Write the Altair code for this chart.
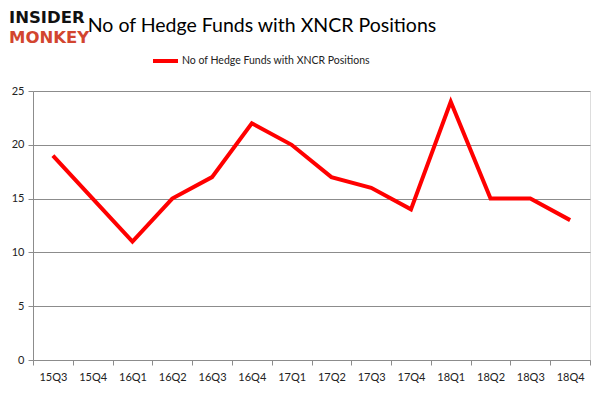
import altair as alt
import pandas as pd

quarters = ["15Q3", "15Q4", "16Q1", "16Q2", "16Q3", "16Q4", "17Q1", "17Q2",
            "17Q3", "17Q4", "18Q1", "18Q2", "18Q3", "18Q4"]
funds = [19, 15, 11, 15, 17, 22, 20, 17, 16, 14, 24, 15, 15, 13]
series_name = "No of Hedge Funds with XNCR Positions"
title_text = "No of Hedge Funds with XNCR Positions"

df = pd.DataFrame({"quarter": quarters, "funds": funds, "series": series_name})
one = alt.Data(values=[{"k": 1}])

FONT = "Lato"
GRID = "#8c8c8c"

x = alt.X("quarter:N", sort=quarters, title=None,
          bandPosition=0.5,
          scale=alt.Scale(type="band", paddingInner=0, paddingOuter=0),
          axis=alt.Axis(tickBand="extent", labelAngle=0, labelFont=FONT,
                        labelFontSize=11, labelColor="#222", labelPadding=6,
                        domainColor=GRID, tickColor=GRID, tickSize=5,
                        grid=False))
y = alt.Y("funds:Q", title=None,
          scale=alt.Scale(domain=[0, 25], nice=False),
          axis=alt.Axis(values=[0, 5, 10, 15, 20, 25], labelFont=FONT,
                        labelFontSize=11, labelColor="#222", labelPadding=4,
                        domainColor=GRID, tickColor=GRID, tickSize=5,
                        gridColor=GRID, gridWidth=1))

line = alt.Chart(df).mark_line(color="#ff0000", strokeWidth=4).encode(x=x, y=y)

title = alt.Chart(one).mark_text(
    text=title_text, font=FONT, fontSize=19.5, align="center",
    baseline="middle", color="#000").encode(
    x=alt.value(229), y=alt.value(-65))

legend_line = alt.Chart(one).mark_rule(color="#ff0000", strokeWidth=4).encode(
    x=alt.value(120), x2=alt.value(145), y=alt.value(-30))
legend_text = alt.Chart(one).mark_text(
    text=series_name, font=FONT, fontSize=10.5, align="left",
    baseline="middle", color="#222").encode(
    x=alt.value(149), y=alt.value(-30))

logo1 = alt.Chart(one).mark_text(
    text="INSIDER", font="DejaVu Sans", fontWeight="bold",
    fontSize=16.5, align="left", baseline="middle", color="#111").encode(
    x=alt.value(-24), y=alt.value(-73))
logo2 = alt.Chart(one).mark_text(
    text="MONKEY", font="DejaVu Sans", fontWeight="bold",
    fontSize=16.5, align="left", baseline="middle", color="#d2452f").encode(
    x=alt.value(-24), y=alt.value(-53))

chart = alt.layer(line, title, legend_line, legend_text, logo1, logo2).properties(
    width=557, height=269,
    autosize=alt.AutoSizeParams(type="none"),
    padding={"left": 25, "top": 83, "right": 3, "bottom": 36},
).configure_view(stroke=None).configure(background="white")

chart.save("out.html", embed_options={"renderer": "svg", "actions": False})
